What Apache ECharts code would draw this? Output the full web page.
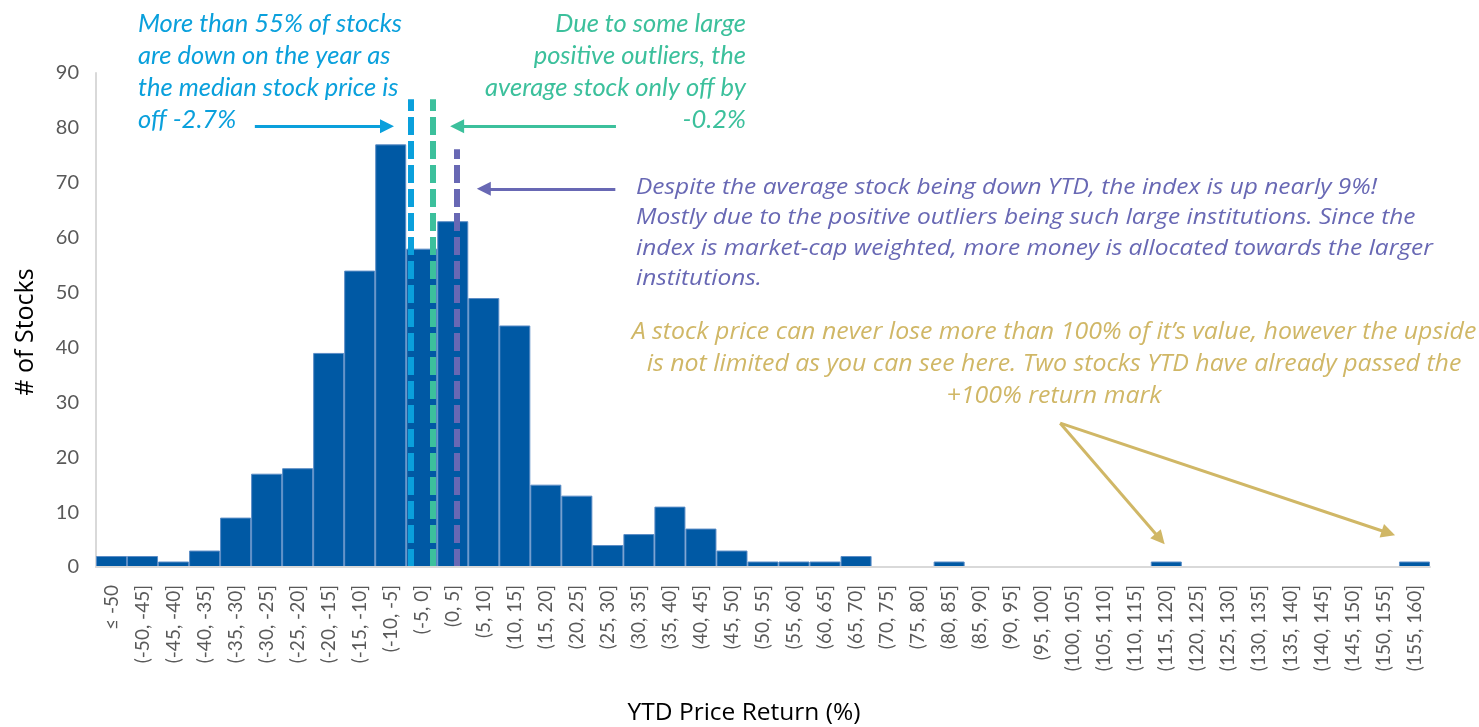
<!DOCTYPE html>
<html>
<head>
<meta charset="utf-8">
<script src="https://cdn.jsdelivr.net/npm/echarts@6/dist/echarts.min.js"></script>
<style>
  html, body { margin: 0; padding: 0; background: #fff; }
  #chart { width: 1479px; height: 727px; }
</style>
</head>
<body>
<div id="chart"></div>
<script>
// histogram bins (YTD price return, %)
const bins = [
  '≤ -50', '(-50, -45]', '(-45, -40]', '(-40, -35]', '(-35, -30]', '(-30, -25]', '(-25, -20]',
  '(-20, -15]', '(-15, -10]', '(-10, -5]', '(-5, 0]', '(0, 5]', '(5, 10]', '(10, 15]',
  '(15, 20]', '(20, 25]', '(25, 30]', '(30, 35]', '(35, 40]', '(40, 45]', '(45, 50]',
  '(50, 55]', '(55, 60]', '(60, 65]', '(65, 70]', '(70, 75]', '(75, 80]', '(80, 85]',
  '(85, 90]', '(90, 95]', '(95, 100]', '(100, 105]', '(105, 110]', '(110, 115]', '(115, 120]',
  '(120, 125]', '(125, 130]', '(130, 135]', '(135, 140]', '(140, 145]', '(145, 150]', '(150, 155]',
  '(155, 160]'
];
// # of stocks per bin
const counts = [2, 2, 1, 3, 9, 17, 18, 39, 54, 77, 58, 63, 49, 44, 15, 13, 4, 6, 11, 7,
  3, 1, 1, 1, 2, 0, 0, 1, 0, 0, 0, 0, 0, 0, 1, 0, 0, 0, 0, 0, 0, 0, 1];

// continuous return scale behind the bins (-55 .. 160)
const returnRange = [-55, 160];
// vertical reference lines: [return position, top count]
const medianLine = [-4.2, 85.2];
const averageLine = [-0.7, 85.2];
const indexLine = [3.1, 76.1];
// annotation arrows: [from, to] in (return, count)
const medianArrow = [[-29.4, 80.3], [-8.1, 80.3]];
const averageArrow = [[28.8, 80.3], [3.2, 80.3]];
const indexArrow = [[28.7, 68.9], [7.5, 68.9]];
const outlierArrows = [
  [[100.4, 26.2], [116.5, 5.1]],
  [[100.4, 26.2], [153.3, 6.2]]
];

const BLUE = '#0aa0dc', GREEN = '#3cc09c', PURPLE = '#6868b4', GOLD = '#d0b766';
const FONT = 'Lato', WIDE = 'Open Sans';

function vline(v, color) {
  return [
    { coord: [v[0], 0], lineStyle: { color: color, width: 6, type: [18, 6] } },
    { coord: [v[0], v[1]] }
  ];
}
function arrow(a, color, size) {
  return [
    { coord: a[0], lineStyle: { color: color, width: 3, type: 'solid' }, symbolSize: size },
    { coord: a[1] }
  ];
}

const chart = echarts.init(document.getElementById('chart'));
chart.setOption({
  animation: false,
  grid: { left: 96, right: 49, top: 73, bottom: 160, containLabel: false, outerBoundsMode: 'none' },
  xAxis: [
    {
      type: 'category',
      data: bins,
      name: 'YTD Price Return (%)',
      nameLocation: 'middle',
      nameGap: 134,
      nameTextStyle: { fontFamily: WIDE, fontSize: 24.5, color: '#000', padding: [0, 38, 0, 0] },
      axisLine: { lineStyle: { color: '#d9d9d9', width: 2 } },
      axisTick: { show: false },
      axisLabel: { rotate: 90, interval: 0, margin: 18, fontFamily: FONT, fontSize: 19, color: '#595959' },
      z: 5
    },
    {
      type: 'value',
      min: returnRange[0],
      max: returnRange[1],
      show: false
    }
  ],
  yAxis: {
    type: 'value',
    min: 0,
    max: 90,
    interval: 10,
    name: '# of Stocks',
    nameLocation: 'middle',
    nameGap: 58,
    nameTextStyle: { fontFamily: WIDE, fontSize: 25, color: '#000', padding: [0, 24, 0, 0] },
    axisLine: { show: true, onZero: false, lineStyle: { color: '#d9d9d9', width: 2 } },
    axisTick: { show: false },
    splitLine: { show: false },
    axisLabel: { margin: 17, fontFamily: FONT, fontSize: 20, color: '#595959' }
  },
  series: [
    {
      type: 'bar',
      data: counts.map(v => (v === 0 ? { value: v, itemStyle: { borderWidth: 0 } } : v)),
      barCategoryGap: '0%',
      itemStyle: { color: '#0059a4', borderColor: '#5b8dc6', borderWidth: 1 }
    },
    {
      type: 'line',
      xAxisIndex: 1,
      data: [],
      markLine: {
        silent: true,
        symbol: 'none',
        label: { show: false },
        data: [vline(medianLine, BLUE), vline(averageLine, GREEN), vline(indexLine, PURPLE)]
      }
    },
    {
      type: 'line',
      xAxisIndex: 1,
      data: [],
      markLine: {
        silent: true,
        symbol: ['none', 'triangle'],
        symbolSize: 14,
        label: { show: false },
        data: [
          arrow(medianArrow, BLUE, 14),
          arrow(averageArrow, GREEN, 14),
          arrow(indexArrow, PURPLE, 14),
          arrow(outlierArrows[0], GOLD, 18),
          arrow(outlierArrows[1], GOLD, 18)
        ]
      }
    }
  ],
  graphic: [
    {
      type: 'text', x: 138, y: 8,
      style: {
        text: 'More than 55% of stocks\nare down on the year as\nthe median stock price is\noff -2.7%',
        font: 'italic 25.5px ' + FONT, fill: BLUE, lineHeight: 32
      }
    },
    {
      type: 'text', x: 746, y: 8,
      style: {
        text: 'Due to some large\npositive outliers, the\naverage stock only off by\n-0.2%',
        font: 'italic 25.5px ' + FONT, fill: GREEN, lineHeight: 32, align: 'right'
      }
    },
    {
      type: 'text', x: 636, y: 172, scaleX: 1.087,
      style: {
        text: 'Despite the average stock being down YTD, the index is up nearly 9%!\nMostly due to the positive outliers being such large institutions. Since the\nindex is market-cap weighted, more money is allocated towards the larger\ninstitutions.',
        font: 'italic 22.5px ' + WIDE, fill: PURPLE, lineHeight: 30.5
      }
    },
    {
      type: 'text', x: 1054, y: 316, scaleX: 1.06,
      style: {
        text: 'A stock price can never lose more than 100% of it’s value, however the upside\nis not limited as you can see here. Two stocks YTD have already passed the\n+100% return mark',
        font: 'italic 23.5px ' + WIDE, fill: GOLD, lineHeight: 32, align: 'center'
      }
    }
  ]
});
</script>
</body>
</html>
